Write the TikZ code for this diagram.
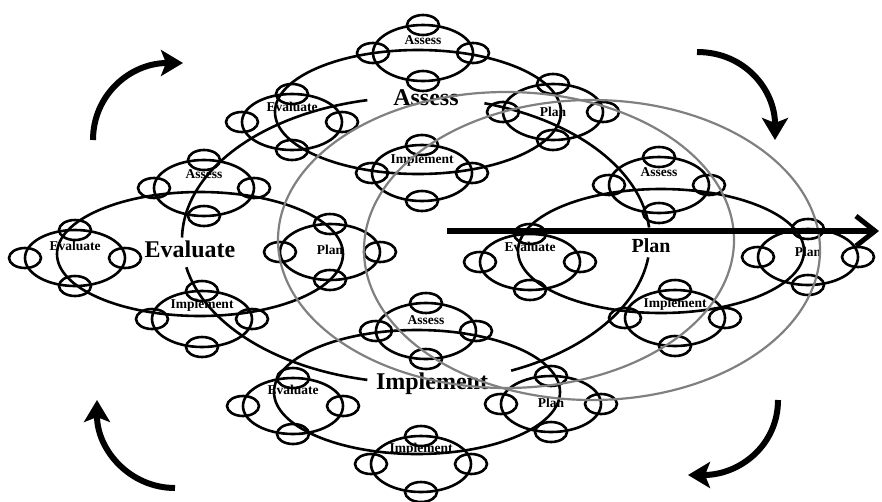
\documentclass[tikz,border=0pt]{standalone}
\usepackage{fontspec}
\setmainfont{Liberation Serif}
\usepackage{tikz}
\usetikzlibrary{arrows.meta}

\tikzset{
  ring/.style={line width=2.6pt,draw=black},
  greyring/.style={line width=2.2pt,draw=black!50},
  smalltext/.style={font=\bfseries\fontsize{13.5}{15}\selectfont,inner sep=0pt},
  bigtext/.style={font=\bfseries\fontsize{24}{26}\selectfont,inner sep=0pt},
  turn/.style={line width=6pt,-{Stealth[length=22pt,width=26pt,inset=5pt]}}
}

\begin{document}
\begin{tikzpicture}[x=1pt,y=-1pt]
            \useasboundingbox (0,0) rectangle (882,501);

            \foreach \gx/\gy in {418/112,200/254,661/251,417/392}
                \draw[ring] (\gx,\gy) ellipse [x radius=143, y radius=62];

            \foreach \nm/\mx/\my/\txt/\ty in {aN/423/53/Assess/-13,aW/292/122/Evaluate/-15,aE/553/112/Plan/0,aS/422/173/Implement/-13,
                                              eN/204/188/Assess/-14,eW/75/258/Evaluate/-12,eE/330/252/Plan/-2,eS/202/319/Implement/-14,
                                              pN/659/185/Assess/-13,pW/530/262/Evaluate/-15,pE/808/257/Plan/-5,pS/675/318/Implement/-14,
                                              iN/426/331/Assess/-11,iW/293/406/Evaluate/-16,iE/551/404/Plan/-1,iS/421/464/Implement/-15}
            {
                \draw[ring] (\mx,\my) ellipse [x radius=50, y radius=28];
                \foreach \dx/\dy in {-50/0,50/0,0/-28,0/28}
                    \draw[ring] (\mx+\dx,\my+\dy) ellipse [x radius=16, y radius=10];
                \node[smalltext] (\nm) at (\mx,\my+\ty) {\txt};
            }

            \node[bigtext] (assess) at (426,98) {Assess};
            \node[bigtext] (evaluate) at (190,249) {Evaluate};
            \node[bigtext,font=\bfseries\fontsize{20}{22}\selectfont] (plan) at (651,246) {Plan};
            \node[bigtext] (implement) at (432,384) {Implement};

            \coordinate (hub) at (416,240);
            \foreach \a/\b in {-73/-5,7/66,102/169,181/258}
                \draw[ring] (hub) ++(\a:234 and 143) arc [start angle=\a, end angle=\b, x radius=234, y radius=143];

            \draw[greyring] (506,240) ellipse [x radius=228, y radius=148];
            \draw[greyring] (592,250) ellipse [x radius=228, y radius=150];

            \coordinate (axisstart) at (447,231);
            \coordinate (axisend) at (879,231);
            \draw[line width=6pt,-{Straight Barb[length=19pt,width=30pt,line width=5pt]}] (axisstart) -- (axisend);

            \draw[turn] (93,140) .. controls (93,95) and (130,63) .. (183,63);
            \draw[turn] (697,52) .. controls (745,52) and (775,90) .. (775,140);
            \draw[turn] (778,400) .. controls (778,445) and (740,475) .. (688,475);
            \draw[turn] (175,488) .. controls (130,488) and (97,450) .. (97,400);

        \end{tikzpicture}
\end{document}
